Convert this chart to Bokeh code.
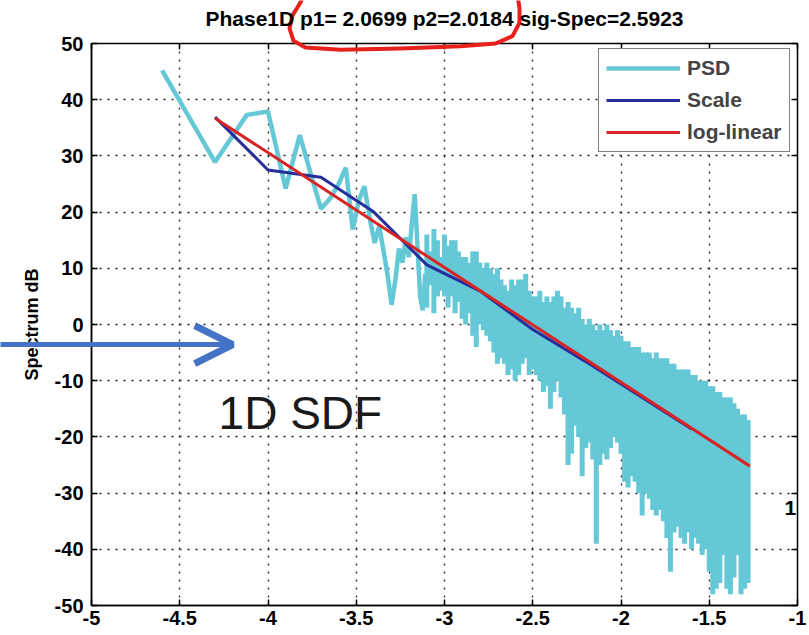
from bokeh.plotting import figure
from bokeh.models import (Range1d, FixedTicker, LinearAxis, Legend, LegendItem,
                          Label, Arrow, OpenHead, CustomJSTickFormatter, GridBox)
from bokeh.embed import file_html
from bokeh.resources import INLINE

# ---- axis ticks ----
x_ticks = [-5, -4.5, -4, -3.5, -3, -2.5, -2, -1.5, -1]
y_ticks = [-50, -40, -30, -20, -10, 0, 10, 20, 30, 40, 50]

# ---- PSD, low-frequency bins (individual periodogram values, dB) ----
psd_x = [-4.60, -4.30, -4.12, -4.00, -3.90, -3.82, -3.755, -3.70, -3.646, -3.60,
         -3.559, -3.52, -3.486, -3.454, -3.424, -3.396, -3.37, -3.345, -3.321, -3.30,
         -3.278, -3.258, -3.238, -3.22, -3.202, -3.185, -3.169, -3.153, -3.138, -3.123,
         -3.109]
psd_y = [45.2, 28.9, 37.3, 37.9, 24.2, 33.7, 26.5, 20.6, 22.5, 25.0,
         27.9, 16.9, 22.0, 24.6, 19.0, 14.5, 17.5, 13.0, 8.5, 3.5,
         8.0, 13.5, 11.0, 15.5, 12.0, 18.0, 23.2, 14.0, 5.0, 2.5,
         9.0]

# ---- PSD, high-frequency bins: max / min of the periodogram in each bin ----
band_x = [-3.10, -3.08, -3.06, -3.04, -3.02, -3.00, -2.98, -2.96, -2.94, -2.92,
          -2.90, -2.88, -2.86, -2.84, -2.82, -2.80, -2.78, -2.76, -2.74, -2.72,
          -2.70, -2.68, -2.66, -2.64, -2.62, -2.60, -2.58, -2.56, -2.54, -2.52,
          -2.50, -2.48, -2.46, -2.44, -2.42, -2.40, -2.38, -2.36, -2.34, -2.32,
          -2.30, -2.28, -2.26, -2.24, -2.22, -2.20, -2.18, -2.16, -2.14, -2.12,
          -2.10, -2.08, -2.06, -2.04, -2.02, -2.00, -1.98, -1.96, -1.94, -1.92,
          -1.90, -1.88, -1.86, -1.84, -1.82, -1.80, -1.78, -1.76, -1.74, -1.72,
          -1.70, -1.68, -1.66, -1.64, -1.62, -1.60, -1.58, -1.56, -1.54, -1.52,
          -1.50, -1.48, -1.46, -1.44, -1.42, -1.40, -1.38, -1.36, -1.34, -1.32,
          -1.30, -1.28]
band_hi = [16, 13, 17, 15, 12, 16, 14, 15, 15, 13,
           12, 12, 11, 13, 13, 11, 10, 11, 10, 9,
           10, 8, 7, 6, 8, 7, 8, 8, 9, 6,
           5, 5, 6, 4, 5, 4, 5, 6, 5, 3,
           4, 3, 2, 3, 1, 0, 1, 0, -1, 0,
           -1, 0, -1, -2, -1, -2, -3, -3, -4, -4,
           -4, -5, -5, -5, -6, -5, -6, -6, -6, -7,
           -7, -8, -8, -8, -8, -9, -9, -10, -10, -10,
           -11, -11, -12, -12, -13, -13, -13, -14, -15, -16,
           -16, -17]
band_lo = [3, 7, 2, 5, 6, 5, 3, 5, 2, 4,
           1, 0, 2, -2, -4, 0, -1, -2, -3, -5,
           -7, -6, -7, -9, -8, -10, -9, -7, -6, -9,
           -8, -9, -10, -12, -11, -15, -12, -10, -13, -16,
           -25, -23, -18, -20, -27, -22, -21, -24, -39, -25,
           -23, -24, -22, -20, -21, -23, -28, -29, -27, -28,
           -30, -34, -30, -31, -33, -34, -33, -35, -38, -44,
           -37, -36, -38, -39, -37, -40, -38, -39, -41, -40,
           -44, -48, -47, -46, -41, -47, -48, -45, -41, -48,
           -47, -46]

# ---- multiscale estimate and log-linear fit ----
scale_x = [-4.3, -4.0, -3.7, -3.4, -3.1, -2.8, -2.5, -2.2, -1.9, -1.6]
scale_y = [36.9, 27.5, 26.2, 20.0, 10.6, 6.0, -0.9, -6.6, -12.6, -18.6]
fit_x = [-4.3, -1.27]
fit_y = [36.7, -25.2]

title_text = "Phase1D p1= 2.0699 p2=2.0184 sig-Spec=2.5923"

# ---- hand-drawn callouts (in the plot's data units) ----
circle_x = [-3.782, -3.816, -3.861, -3.878, -3.856, -3.788, -3.589, -3.249,
            -2.909, -2.711, -2.615, -2.575, -2.575, -2.592]
circle_y = [59.8, 57.3, 55.0, 52.7, 50.5, 49.3, 48.9, 49.1,
            49.5, 50.0, 51.3, 53.7, 56.2, 59.8]
arrow_from = (-5.52, -3.56)
arrow_to = (-4.2, -3.56)

CYAN = "#64c8d7"
NAVY = "#262e9c"
RED = "#d92424"
FONT = "Liberation Sans"

W, H = 809, 635
BORDER_L, BORDER_R, BORDER_T, BORDER_B = 91, 12, 43, 30
TITLE_MID = 18          # title centre, px from the top of the canvas
X0, X1, Y0, Y1 = -5, -1, -50, 50

p = figure(width=W, height=H, output_backend="svg", toolbar_location=None,
           x_range=Range1d(X0, X1), y_range=Range1d(Y0, Y1),
           min_border_left=BORDER_L, min_border_right=BORDER_R,
           min_border_top=BORDER_T, min_border_bottom=BORDER_B,
           background_fill_color="white", border_fill_color="white")
p.frame_align = False
p.title.visible = False

p.outline_line_color = "black"
p.outline_line_width = 1.5
p.outline_line_alpha = 1

for ax, ticks in ((p.xaxis[0], x_ticks), (p.yaxis[0], y_ticks)):
    ax.ticker = FixedTicker(ticks=ticks)
    ax.major_label_overrides = {t: f"{t:g}" for t in ticks}
    ax.major_tick_in = 6
    ax.major_tick_out = 0
    ax.minor_tick_line_color = None
    ax.axis_line_width = 1.5
    ax.major_tick_line_width = 1.5
    ax.major_label_text_font = FONT
    ax.major_label_text_font_size = "20px"
    ax.major_label_text_font_style = "bold"
    ax.major_label_text_color = "black"

p.xaxis.major_label_standoff = 5
p.yaxis.major_label_standoff = 8
p.yaxis.axis_label = "Spectrum dB"
p.yaxis.axis_label_text_font = FONT
p.yaxis.axis_label_text_font_size = "18px"
p.yaxis.axis_label_text_font_style = "bold"
p.yaxis.axis_label_text_color = "black"
p.yaxis.axis_label_standoff = 10

# mirror ticks on the top and right edges of the box
for side, ticks in (("above", x_ticks), ("right", y_ticks)):
    extra = LinearAxis(ticker=FixedTicker(ticks=ticks), major_tick_in=6,
                       major_tick_out=0, minor_tick_line_color=None,
                       axis_line_color=None, major_label_standoff=0,
                       major_tick_line_width=1.5,
                       formatter=CustomJSTickFormatter(code="return ''"))
    p.add_layout(extra, side)

for g in (p.xgrid[0], p.ygrid[0]):
    g.grid_line_color = "#222222"
    g.grid_line_dash = "2 6"
    g.grid_line_width = 1.3

# PSD
p.segment(x0=band_x, y0=band_lo, x1=band_x, y1=band_hi,
          line_color=CYAN, line_width=5)
psd_line = p.line(psd_x, psd_y, line_color=CYAN, line_width=4.5)
# Scale
scale_line = p.line(scale_x, scale_y, line_color=NAVY, line_width=3)
# log-linear
fit_line = p.line(fit_x, fit_y, line_color=RED, line_width=3)

legend = Legend(items=[LegendItem(label="PSD", renderers=[psd_line]),
                       LegendItem(label="Scale", renderers=[scale_line]),
                       LegendItem(label="log-linear", renderers=[fit_line])],
                location=(507, 453), orientation="vertical",
                border_line_color="black", border_line_width=1.5,
                background_fill_color="white", background_fill_alpha=1,
                label_text_font=FONT, label_text_font_size="21px",
                label_text_font_style="bold", glyph_width=74, glyph_height=22,
                label_height=22, spacing=8, padding=7, margin=0,
                label_standoff=7)
p.add_layout(legend)

p.add_layout(Label(x=-4.28, y=-15.8, text="1D SDF", text_font=FONT,
                   text_font_size="46px", text_color="#1a1a1a",
                   text_baseline="middle", text_align="left"))
p.add_layout(Label(x=-1.074, y=-32.7, text="1", text_font=FONT,
                   text_font_size="21px", text_font_style="bold",
                   text_color="black", text_baseline="middle", text_align="left"))

# transparent layer over the whole canvas, sharing the plot's data units,
# so the title and the callouts can reach past the axes box
dx = (X1 - X0) / (W - BORDER_L - BORDER_R)
dy = (Y1 - Y0) / (H - BORDER_T - BORDER_B)
over = figure(width=W, height=H, output_backend="svg", toolbar_location=None,
              x_range=Range1d(X0 - BORDER_L * dx, X1 + BORDER_R * dx),
              y_range=Range1d(Y0 - BORDER_B * dy, Y1 + BORDER_T * dy),
              x_axis_type=None, y_axis_type=None,
              min_border_left=0, min_border_right=0,
              min_border_top=0, min_border_bottom=0,
              background_fill_color=None, border_fill_color=None,
              outline_line_color=None)
over.frame_align = False
over.grid.visible = False
over.title.visible = False
over.styles = {"pointer-events": "none"}

over.add_layout(Label(x=(X0 + X1) / 2, y=Y1 + (BORDER_T - TITLE_MID) * dy,
                      text=title_text, text_font=FONT, text_font_size="21px",
                      text_font_style="bold", text_color="black",
                      text_align="center", text_baseline="middle"))
over.line(circle_x, circle_y, line_color="#e8201c", line_width=4,
          line_join="round", line_cap="round")
over.add_layout(Arrow(x_start=arrow_from[0], y_start=arrow_from[1],
                      x_end=arrow_to[0], y_end=arrow_to[1],
                      line_color="#4472c4", line_width=5,
                      end=OpenHead(size=38, line_width=7, line_color="#4472c4")))

# both figures share one grid cell, the overlay layer on top
page = GridBox(children=[(p, 0, 0), (over, 0, 0)])

open("out.html", "w").write(file_html(page, INLINE))
